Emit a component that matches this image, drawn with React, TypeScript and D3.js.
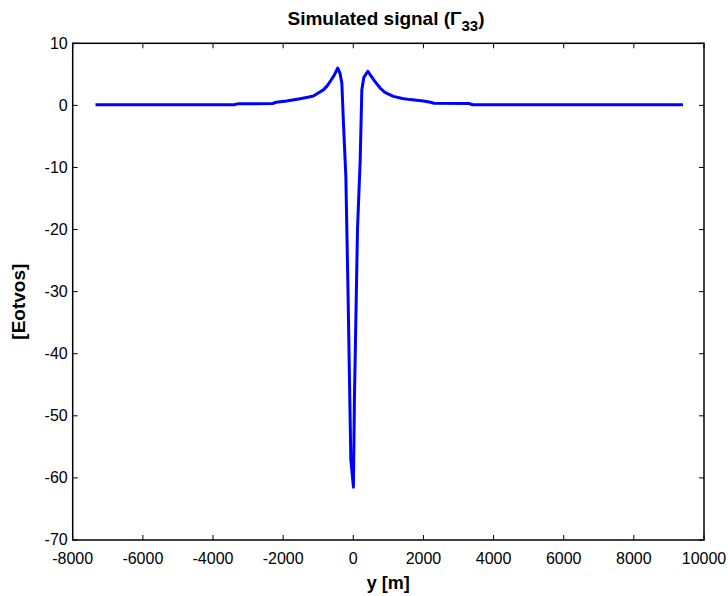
import React from "react";
import * as d3 from "d3";

const yPositions = [-7350, -3400, -3300, -2300, -2200, -1900, -1517, -1300, -1137, -1000, -852, -750, -660, -550, -444, -380, -326, -281, -212, -150, -100, -70, 4, 33, 53, 120, 196, 244, 300, 415, 500, 600, 765, 900, 1145, 1400, 1622, 2000, 2200, 2300, 3300, 3400, 9400];
const signal = [0.1, 0.1, 0.25, 0.3, 0.5, 0.7, 1.08, 1.3, 1.5, 2.0, 2.5, 3.1, 3.85, 4.8, 6.0, 5.2, 3.6, -2.8, -11.4, -30, -47, -57, -61.5, -47, -41, -20, -9, 2.5, 4.5, 5.5, 4.8, 4.0, 2.8, 2.1, 1.45, 1.1, 0.93, 0.7, 0.5, 0.35, 0.3, 0.1, 0.1];
const xTicks = [-8000, -6000, -4000, -2000, 0, 2000, 4000, 6000, 8000, 10000];
const yTicks = [10, 0, -10, -20, -30, -40, -50, -60, -70];

export default function App() {
  const W = 728, H = 596;
  const left = 72.7, right = 704, top = 43.3, bottom = 540;
  const x = d3.scaleLinear().domain([-8000, 10000]).range([left, right]);
  const y = d3.scaleLinear().domain([-70, 10]).range([bottom, top]);
  const pts: [number, number][] = yPositions.map((p, i) => [p, signal[i]]);
  const line = d3.line<[number, number]>().x(d => x(d[0])).y(d => y(d[1]));
  const font = "Liberation Sans, Arial, sans-serif";
  const tl = 5;
  return (
    <div style={{ position: "absolute", left: 0, top: 0 }}>
      <svg width={W} height={H} style={{ display: "block", background: "#fff" }}>
        <rect x={0} y={0} width={W} height={H} fill="#fff" />
        <path d={line(pts) || ""} fill="none" stroke="#0000ff" strokeWidth={3} strokeLinejoin="round" />
        <rect x={left} y={top} width={right - left} height={bottom - top} fill="none" stroke="#000" strokeWidth={1.5} />
        {xTicks.map(t => (
          <g key={"x" + t}>
            <line x1={x(t)} x2={x(t)} y1={bottom} y2={bottom - tl} stroke="#000" strokeWidth={1} />
            <line x1={x(t)} x2={x(t)} y1={top} y2={top + tl} stroke="#000" strokeWidth={1} />
            <text x={x(t)} y={bottom + 24} textAnchor="middle" fontFamily={font} fontSize={16} fill="#000">{t}</text>
          </g>
        ))}
        {yTicks.map(t => (
          <g key={"y" + t}>
            <line x1={left} x2={left + tl} y1={y(t)} y2={y(t)} stroke="#000" strokeWidth={1} />
            <line x1={right} x2={right - tl} y1={y(t)} y2={y(t)} stroke="#000" strokeWidth={1} />
            <text x={left - 5} y={t === -70 ? y(t) + 4.5 : y(t) + 5.5} textAnchor="end" fontFamily={font} fontSize={16} fill="#000">{t}</text>
          </g>
        ))}
        <text x={386} y={25} textAnchor="middle" fontFamily={font} fontSize={19} fontWeight="bold" fill="#000">
          Simulated signal (Γ<tspan dy={6} fontSize={15}>33</tspan><tspan dy={-6}>)</tspan>
        </text>
        <text x={(left + right) / 2} y={589} textAnchor="middle" fontFamily={font} fontSize={18} fontWeight="bold" fill="#000">y [m]</text>
        <text transform={`translate(25, ${(top + bottom) / 2 + 10}) rotate(-90)`} textAnchor="middle" fontFamily={font} fontSize={19} fontWeight="bold" fill="#000">[Eotvos]</text>
      </svg>
    </div>
  );
}
